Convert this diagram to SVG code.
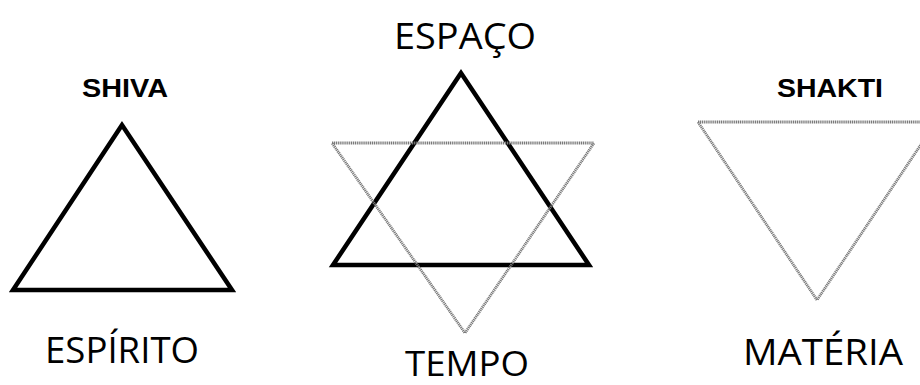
<svg xmlns="http://www.w3.org/2000/svg" width="920" height="385" viewBox="0 0 920 385">
<style>
.bg{fill:#fff}
.solid{fill:none;stroke:#000;stroke-width:4.5;stroke-linejoin:miter}
.dot{fill:none;stroke:#7a7a7a;stroke-width:2.8;stroke-dasharray:1.2 0.7;stroke-linejoin:miter}
.sm{font-family:"Liberation Sans",Arial,sans-serif;font-weight:bold;font-size:26px;fill:#000;text-anchor:middle}
.lg{font-family:"Open Sans","Noto Sans",sans-serif;font-size:36px;fill:#000;text-anchor:middle}
</style>
<rect class="bg" x="0" y="0" width="920" height="385"/>
<g id="shiva">
<polygon class="solid" points="122,125 13,290 232,290"/>
<text class="sm" x="125" y="97" textLength="86" lengthAdjust="spacingAndGlyphs">SHIVA</text>
<text class="lg" x="122" y="363" textLength="154" lengthAdjust="spacingAndGlyphs">ESPÍRITO</text>
</g>
<g id="estrela">
<polygon class="solid" points="461,73 333,265 589,265"/>
<polygon class="dot" points="332,143 594,143 465,333"/>
<text class="lg" x="465" y="49" textLength="142" lengthAdjust="spacingAndGlyphs">ESPAÇO</text>
<text class="lg" x="467" y="376" style="font-size:34px" textLength="124" lengthAdjust="spacingAndGlyphs">TEMPO</text>
</g>
<g id="shakti">
<polygon class="dot" points="698,122 936,122 817,300"/>
<text class="sm" x="830" y="97" textLength="106" lengthAdjust="spacingAndGlyphs">SHAKTI</text>
<text class="lg" x="823" y="365" textLength="160" lengthAdjust="spacingAndGlyphs">MATÉRIA</text>
</g>
<g id="connectors"></g>
</svg>
